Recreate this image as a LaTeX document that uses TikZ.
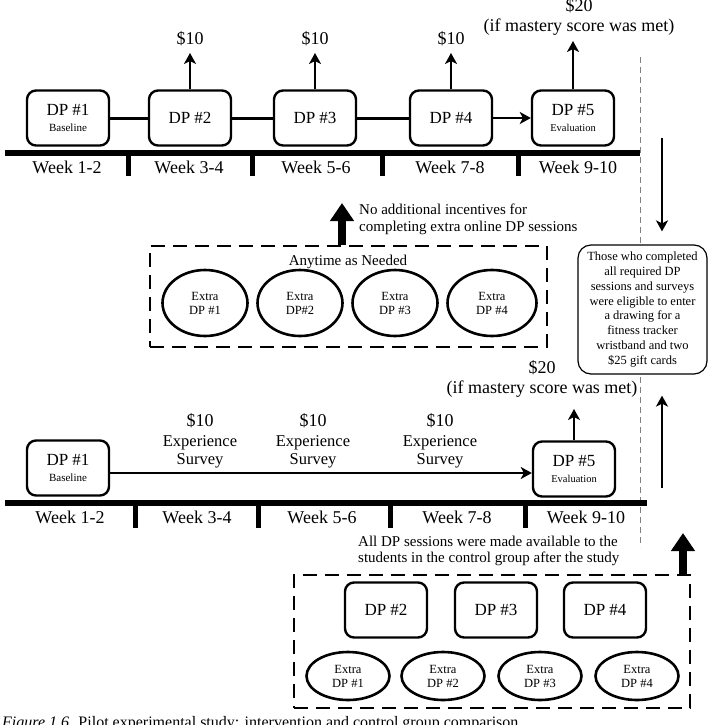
\documentclass[tikz,border=0pt]{standalone}
\usepackage{fontspec}
\setmainfont{Liberation Serif}
\usetikzlibrary{arrows.meta,shapes.geometric}
\begin{document}
\begin{tikzpicture}[x=1pt,y=-1pt,
  dp/.style={draw, fill=white, line width=2.4pt, rounded corners=9pt, minimum width=82pt, minimum height=55pt, inner sep=1pt, align=center, font=\fontsize{17}{17}\selectfont},
  ex/.style={ellipse, draw, line width=2.6pt, align=center, inner sep=0pt, font=\fontsize{12.5}{14}\selectfont},
  lbl/.style={font=\fontsize{18}{20}\selectfont, inner sep=0pt, align=center},
  week/.style={font=\fontsize{18}{20}\selectfont, inner sep=0pt},
  note/.style={font=\fontsize{15}{17}\selectfont, inner sep=0pt, align=left},
  conn/.style={line width=3pt},
  arr/.style={line width=2.6pt, -{Stealth[length=11pt,width=12pt,inset=3pt]}},
  bigarr/.style={line width=8pt, -{Triangle[length=18pt,width=23pt]}},
  dbox/.style={draw, line width=2.8pt, dash pattern=on 14pt off 8pt, inner sep=0pt},
  bar/.style={line width=6pt},
  tickmark/.style={line width=5pt},
  vdash/.style={gray, line width=1pt, dash pattern=on 6pt off 4pt},
]
\useasboundingbox (0,0) rectangle (708,725);

% ---------------- top (intervention) ----------------
\node[dp] (t1) at (68,118) {DP \#1\\[-1pt]{\fontsize{11}{12}\selectfont Baseline}};
\node[dp] (t2) at (190,118) {DP \#2};
\node[dp] (t3) at (315,118) {DP \#3};
\node[dp] (t4) at (451,118) {DP \#4};
\node[dp] (t5) at (573,118) {DP \#5\\[-1pt]{\fontsize{10.5}{12}\selectfont Evaluation}};
\draw[conn] (t1) -- (t2);
\draw[conn] (t2) -- (t3);
\draw[conn] (t3) -- (t4);
\draw[arr] (t4) -- (t5);

\coordinate (a2) at (190,53);
\coordinate (a3) at (315,53);
\coordinate (a4) at (451,53);
\coordinate (a5) at (573,41);
\draw[arr] (t2.north) -- (a2);
\draw[arr] (t3.north) -- (a3);
\draw[arr] (t4.north) -- (a4);
\draw[arr] (t5.north) -- (a5);
\node[lbl] (m2) at (190,39) {\$10};
\node[lbl] (m3) at (315,39) {\$10};
\node[lbl] (m4) at (451,39) {\$10};
\node[lbl] (m5) at (579,6) {\$20};
\node[lbl] (m5b) at (579,27) {(if mastery score was met)};

\draw[bar] (5,153) -- (640,153);
\draw[tickmark] (128,155) -- (128,176);
\draw[tickmark] (252,155) -- (252,176);
\draw[tickmark] (382,155) -- (382,176);
\draw[tickmark] (518,155) -- (518,176);
\node[week] (w1) at (67,167) {Week 1-2};
\node[week] (w2) at (189,167) {Week 3-4};
\node[week] (w3) at (316,167) {Week 5-6};
\node[week] (w4) at (450,167) {Week 7-8};
\node[week] (w5) at (578,167) {Week 9-10};

% ---------------- right column ----------------
\draw[vdash] (640,57) -- (640,547);
\node[draw, fill=white, line width=1.2pt, rounded corners=13pt, minimum width=129pt, minimum height=129pt, inner sep=0pt, align=center, font=\fontsize{12.5}{14.8}\selectfont] (rb) at (642.5,309.5)
 {Those who completed\\all required DP\\sessions and surveys\\were eligible to enter\\a drawing for a\\fitness tracker\\wristband and two\\\$25 gift cards};
\coordinate (dtop) at (662,138);
\coordinate (ubot) at (662,488);
\draw[arr, shorten >=13pt] (dtop) -- (dtop |- rb.north);
\draw[arr, shorten >=21pt] (ubot) -- (ubot |- rb.south);

% ---------------- middle (extra sessions) ----------------
\node[dbox, minimum width=397pt, minimum height=101pt] (mid) at (348.5,296.5) {};
\coordinate (mtip) at (342,203);
\draw[bigarr] (mid.north -| mtip) -- (mtip);
\node[note, anchor=west] (ninc) at (359,219.5) {No additional incentives for\\completing extra online DP sessions};
\node[note] (any) at (348,262) {Anytime as Needed};
\node[ex, minimum width=85pt, minimum height=66pt] (e1) at (205,303) {Extra\\DP \#1};
\node[ex, minimum width=85pt, minimum height=66pt] (e2) at (300,303) {Extra\\DP\#2};
\node[ex, minimum width=85pt, minimum height=66pt] (e3) at (395,303) {Extra\\DP \#3};
\node[ex, minimum width=89pt, minimum height=66pt] (e4) at (492,303) {Extra\\DP \#4};

% ---------------- bottom (control) ----------------
\node[lbl] (n5) at (542,368) {\$20};
\node[lbl] (n5b) at (542,389) {(if mastery score was met)};
\node[dp] (b1) at (68,468) {DP \#1\\[-1pt]{\fontsize{11}{12}\selectfont Baseline}};
\node[dp] (b5) at (574,469) {DP \#5\\[-1pt]{\fontsize{10.5}{12}\selectfont Evaluation}};
\draw[arr] ([yshift=-5pt]b1.east) -- ([yshift=-4pt]b5.west);
\coordinate (a6) at (574,409);
\draw[arr] (b5.north) -- (a6);
\node[lbl, font=\fontsize{16.5}{18}\selectfont] (s2) at (200,441) {{\fontsize{18}{19}\selectfont \$10}\\[2pt]Experience\\Survey};
\node[lbl, font=\fontsize{16.5}{18}\selectfont] (s3) at (313,441) {{\fontsize{18}{19}\selectfont \$10}\\[2pt]Experience\\Survey};
\node[lbl, font=\fontsize{16.5}{18}\selectfont] (s4) at (440,441) {{\fontsize{18}{19}\selectfont \$10}\\[2pt]Experience\\Survey};

\draw[bar] (5,503) -- (647,503);
\draw[tickmark] (135,505) -- (135,528);
\draw[tickmark] (258,505) -- (258,528);
\draw[tickmark] (390,505) -- (390,528);
\draw[tickmark] (525,505) -- (525,528);
\node[week] (v1) at (70,517) {Week 1-2};
\node[week] (v2) at (197,517) {Week 3-4};
\node[week] (v3) at (322,517) {Week 5-6};
\node[week] (v4) at (457,517) {Week 7-8};
\node[week] (v5) at (586,517) {Week 9-10};

\node[note, anchor=west, font=\fontsize{15}{16.5}\selectfont] (avail) at (358,551) {All DP sessions were made available to the\\students in the control group after the study};
\node[dbox, minimum width=396pt, minimum height=133pt] (bot) at (492,641.5) {};
\coordinate (btip) at (683,533);
\draw[bigarr] (bot.north -| btip) -- (btip);
\node[dp] (c2) at (386,610) {DP \#2};
\node[dp] (c3) at (496,610) {DP \#3};
\node[dp] (c4) at (605,610) {DP \#4};
\node[ex, minimum width=83pt, minimum height=48pt] (f1) at (348,676) {Extra\\DP \#1};
\node[ex, minimum width=83pt, minimum height=48pt] (f2) at (443,676) {Extra\\DP \#2};
\node[ex, minimum width=83pt, minimum height=48pt] (f3) at (540,676) {Extra\\DP \#3};
\node[ex, minimum width=83pt, minimum height=48pt] (f4) at (637,676) {Extra\\DP \#4};

% caption (cut by the page edge, as in the reference)
\node[anchor=north west, inner sep=0pt, font=\fontsize{16}{18}\selectfont] (cap) at (2,716) {\textit{Figure 1.6.} Pilot experimental study: intervention and control group comparison};
\end{tikzpicture}
\end{document}
